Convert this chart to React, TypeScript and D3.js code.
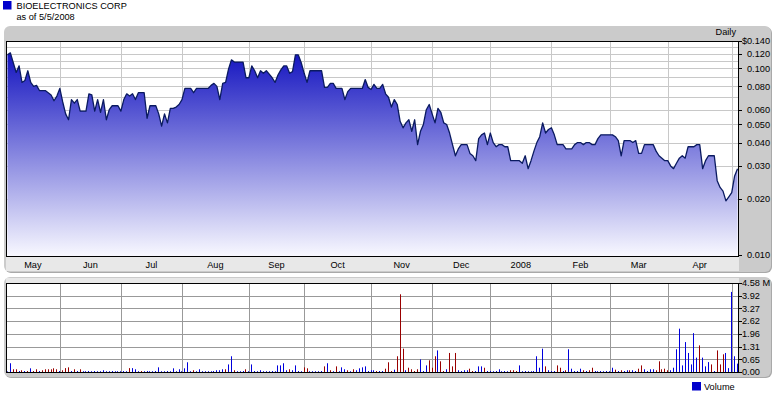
import React from "react";
import * as d3 from "d3";

const priceValues = [
  0.118, 0.121, 0.107, 0.095, 0.103, 0.084, 0.086, 0.097, 0.084, 0.080,
  0.081, 0.076, 0.076, 0.076, 0.074, 0.072, 0.067, 0.071, 0.078, 0.066,
  0.057, 0.053, 0.068, 0.065, 0.068, 0.059, 0.059, 0.059, 0.073, 0.072,
  0.059, 0.068, 0.058, 0.068, 0.053, 0.060, 0.063, 0.063, 0.063, 0.059,
  0.068, 0.073, 0.071, 0.073, 0.068, 0.074, 0.074, 0.074, 0.054, 0.063,
  0.063, 0.063, 0.057, 0.049, 0.057, 0.051, 0.061, 0.061, 0.062, 0.064,
  0.068, 0.078, 0.078, 0.078, 0.074, 0.078, 0.078, 0.078, 0.078, 0.078,
  0.081, 0.083, 0.080, 0.068, 0.083, 0.084, 0.099, 0.111, 0.108, 0.108,
  0.108, 0.108, 0.089, 0.089, 0.103, 0.097, 0.089, 0.097, 0.094, 0.097,
  0.093, 0.089, 0.084, 0.092, 0.098, 0.103, 0.103, 0.094, 0.096, 0.118,
  0.118, 0.107, 0.094, 0.084, 0.097, 0.097, 0.097, 0.097, 0.097, 0.079,
  0.079, 0.083, 0.083, 0.078, 0.078, 0.078, 0.068, 0.075, 0.078, 0.078,
  0.078, 0.078, 0.078, 0.087, 0.079, 0.077, 0.082, 0.078, 0.078, 0.082,
  0.073, 0.070, 0.062, 0.068, 0.064, 0.052, 0.048, 0.051, 0.053, 0.046,
  0.053, 0.039, 0.046, 0.050, 0.060, 0.064, 0.057, 0.051, 0.061, 0.058,
  0.051, 0.050, 0.045, 0.039, 0.034, 0.037, 0.039, 0.039, 0.039, 0.035,
  0.034, 0.032, 0.042, 0.044, 0.045, 0.039, 0.045, 0.040, 0.038, 0.039,
  0.039, 0.038, 0.038, 0.032, 0.032, 0.032, 0.032, 0.031, 0.034, 0.029,
  0.032, 0.036, 0.040, 0.043, 0.051, 0.045, 0.047, 0.048, 0.044, 0.039,
  0.039, 0.039, 0.037, 0.037, 0.037, 0.039, 0.040, 0.040, 0.039, 0.040,
  0.040, 0.039, 0.039, 0.042, 0.044, 0.044, 0.044, 0.044, 0.044, 0.043,
  0.041, 0.034, 0.041, 0.041, 0.041, 0.040, 0.041, 0.035, 0.035, 0.039,
  0.039, 0.039, 0.039, 0.036, 0.034, 0.033, 0.032, 0.032, 0.030, 0.029,
  0.031, 0.033, 0.034, 0.033, 0.038, 0.038, 0.038, 0.039, 0.039, 0.029,
  0.032, 0.034, 0.034, 0.034, 0.025, 0.023, 0.022, 0.0195, 0.0205, 0.0216,
  0.0265, 0.029,
];

const volumeValues = [
  0.03, 0.45, 0.14, 0.14, 0.05, 0.09, 0.05, 0.05, 0.19, 0.05,
  0.14, 0.05, 0.09, 0.14, 0.14, 0.14, 0.19, 0.14, 0.05, 0.09,
  0.20, 0.24, 0.05, 0.14, 0.05, 0.14, 0.04, 0.04, 0.05, 0.04,
  0.05, 0.04, 0.04, 0.09, 0.04, 0.04, 0.05, 0.04, 0.04, 0.04,
  0.05, 0.04, 0.20, 0.20, 0.14, 0.04, 0.05, 0.04, 0.05, 0.04,
  0.04, 0.05, 0.24, 0.04, 0.04, 0.05, 0.04, 0.19, 0.04, 0.14,
  0.04, 0.19, 0.50, 0.04, 0.09, 0.04, 0.14, 0.04, 0.04, 0.04,
  0.04, 0.05, 0.09, 0.09, 0.14, 0.14, 0.39, 0.81, 0.09, 0.04,
  0.04, 0.05, 0.14, 0.04, 0.39, 0.05, 0.04, 0.09, 0.04, 0.04,
  0.04, 0.05, 0.04, 0.34, 0.34, 0.45, 0.09, 0.14, 0.09, 0.34,
  0.05, 0.04, 0.24, 0.19, 0.04, 0.04, 0.04, 0.04, 0.05, 0.29,
  0.45, 0.09, 0.04, 0.29, 0.04, 0.24, 0.14, 0.09, 0.04, 0.14,
  0.09, 0.19, 0.24, 0.29, 0.05, 0.09, 0.09, 0.05, 0.05, 0.05,
  0.17, 0.50, 0.05, 0.12, 0.81, 4.00, 1.20, 0.09, 0.22, 0.14,
  0.05, 0.14, 0.65, 0.05, 0.34, 0.60, 0.22, 0.81, 1.11, 0.55,
  0.05, 0.14, 0.98, 0.29, 0.98, 0.09, 0.05, 0.09, 0.09, 0.17,
  0.05, 0.05, 0.29, 0.29, 0.22, 0.05, 0.05, 0.04, 0.05, 0.14,
  0.04, 0.05, 0.04, 0.09, 0.09, 0.05, 0.34, 0.04, 0.05, 0.04,
  0.04, 0.05, 0.81, 0.22, 1.20, 0.29, 0.09, 0.05, 0.05, 0.34,
  0.22, 0.05, 0.09, 1.17, 0.17, 0.05, 0.05, 0.17, 0.09, 0.05,
  0.09, 0.22, 0.05, 0.04, 0.05, 0.04, 0.05, 0.04, 0.22, 0.12,
  0.05, 0.09, 0.05, 0.09, 0.09, 0.09, 0.05, 0.17, 0.34, 0.14,
  0.05, 0.14, 0.14, 0.09, 0.55, 0.14, 0.17, 0.09, 0.09, 0.22,
  1.17, 2.23, 0.34, 1.54, 0.98, 0.39, 2.00, 0.74, 1.37, 0.74,
  0.29, 0.51, 0.39, 0.05, 1.11, 0.39, 0.91, 0.98, 0.20, 4.12,
  0.81, 0.43,
];

// b = up day (blue), r = down day (red)
const volumeDirections =
  "bbrrbrbrbr" + "rbrrrrrrbr" + "rrbrbrbbbb" + "bbbbbbbbbb" + "bbrbbbrbbb" +
  "bbbbbbbbbb" + "bbbbrbbbbb" + "bbbbbrbbrb" + "bbrbbbbbbb" + "bbbbbbbrbb" +
  "bbrrbbbbbr" + "brbrbbbrbr" + "bbbbbbbrbb" + "rrrbrrrbrr" + "rrbbbrrrbr" +
  "rbrrrbbbbr" + "rbbbrbbbbb" + "bbbrrrbbbb" + "bbbbbrbbbr" + "rbrbbbbbrb" +
  "rrbbbbbbbr" + "brbbrbbrrb" + "bbbrrrrrbb" + "bbbbbbbbrb" + "bbrbrrrbbb" +
  "bb";

const monthLabels = ["May", "Jun", "Jul", "Aug", "Sep", "Oct", "Nov", "Dec", "2008", "Feb", "Mar", "Apr", ""];
const monthTradingDays = [18, 21, 21, 23, 19, 23, 21, 20, 21, 20, 20, 22, 3];

const priceTickValues = [0.14, 0.12, 0.1, 0.08, 0.06, 0.05, 0.04, 0.03, 0.02, 0.01];
const priceTickLabels = ["$0.140", "0.120", "0.100", "0.080", "0.060", "0.050", "0.040", "0.030", "0.020", "0.010"];
const priceGridValues = [0.02, 0.03, 0.04, 0.05, 0.06, 0.07, 0.08, 0.09, 0.1, 0.11, 0.12, 0.13];

const volumeMax = 4.58;
const volumeTickLabels = ["0.00", "0.65", "1.31", "1.96", "2.62", "3.27", "3.92", "4.58 M"];

const titleText = "BIOELECTRONICS CORP";
const subtitleText = "as of 5/5/2008";
const periodText = "Daily";
const volumeLegendText = "Volume";

const FONT = "'Liberation Sans', Arial, Helvetica, sans-serif";

export default function App() {
  const W = 777;
  const H = 395;
  const plotL = 6;
  const plotR = 739;
  const pTop = 41;
  const pBot = 256;
  const vTop = 283;
  const vBot = 372;

  const n = priceValues.length;
  const x = d3.scaleBand<number>().domain(d3.range(n)).range([plotL, plotR]).padding(0);
  const cx = (i: number) => (x(i) as number) + x.bandwidth() / 2;

  const y = d3.scaleLog().domain([0.01, 0.14]).range([pBot - 1, pTop]);
  const yv = d3.scaleLinear().domain([0, volumeMax]).range([vBot, vTop]);

  const area = d3
    .area<number>()
    .x((_, i) => cx(i))
    .y0(pBot)
    .y1((d) => y(d));
  const line = d3
    .line<number>()
    .x((_, i) => cx(i))
    .y((d) => y(d));

  // month boundaries
  const starts: number[] = [];
  let acc = 0;
  monthTradingDays.forEach((d) => {
    starts.push(acc);
    acc += d;
  });
  const gridXs = starts.slice(1).map((s) => cx(s));
  const labelPos = monthLabels
    .map((lab, k) => {
      const left = k === 0 ? plotL : cx(starts[k]);
      const right = k + 1 < starts.length ? cx(starts[k + 1]) : plotR;
      return { lab, mid: (left + right) / 2 };
    })
    .filter((d) => d.lab !== "");

  const volTicks = volumeTickLabels.map((lab, k) => ({ lab, v: (volumeMax * k) / 7 }));

  return (
    <svg
      width={W}
      height={H}
      viewBox={`0 0 ${W} ${H}`}
      style={{ position: "absolute", left: 0, top: 0, background: "#fff" }}
      fontFamily={FONT}
    >
      <defs>
        <linearGradient id="priceFill" x1="0" y1="0" x2="0" y2="1">
          <stop offset="0" stopColor="rgb(20,20,192)" />
          <stop offset="1" stopColor="rgb(248,248,255)" />
        </linearGradient>
      </defs>

      {/* header legend */}
      <rect x={3} y={1} width={8.5} height={8.5} fill="#0000cc" />
      <text x={16.5} y={9} fontSize={9.2} fill="#000">{titleText}</text>
      <text x={16.5} y={19.5} fontSize={9.2} fill="#000">{subtitleText}</text>

      {/* price panel */}
      <rect x={5} y={27} width={767} height={246} rx={6} fill="#a9a9a9" />
      <rect x={4} y={26} width={767} height={246} rx={6} fill="#cbcbcb" />
      <rect x={plotL} y={pBot} width={plotR - plotL} height={15} fill="#e8e8e8" />
      <rect x={plotL} y={pTop} width={plotR - plotL} height={pBot - pTop} fill="#fff" />
      <text x={736} y={35} fontSize={9.2} textAnchor="end" fill="#000">{periodText}</text>

      {/* price grid */}
      {priceGridValues.map((v) => (
        <line key={"pg" + v} x1={plotL} x2={plotR} y1={Math.round(y(v)) + 0.5} y2={Math.round(y(v)) + 0.5} stroke="#c8c8c8" strokeWidth={1} />
      ))}
      {gridXs.map((gx, k) => (
        <line key={"pv" + k} x1={Math.round(gx) + 0.5} x2={Math.round(gx) + 0.5} y1={pTop} y2={pBot} stroke="#c8c8c8" strokeWidth={1} />
      ))}

      {/* price area */}
      <path d={area(priceValues) || ""} fill="url(#priceFill)" />
      <path d={line(priceValues) || ""} fill="none" stroke="#0a1a60" strokeWidth={1.3} strokeLinejoin="round" />

      {/* price border */}
      <rect x={plotL + 0.5} y={pTop + 0.5} width={plotR - plotL - 1} height={pBot - pTop} fill="none" stroke="#000" strokeWidth={1} />

      {/* price axis */}
      {priceTickValues.map((v, k) => (
        <g key={"pt" + k}>
          <line x1={plotR} x2={plotR + 3} y1={Math.round(y(v)) + 0.5} y2={Math.round(y(v)) + 0.5} stroke="#000" />
          <text x={770} y={y(v) + 3.3} fontSize={9.2} textAnchor="end" fill="#000">
            {priceTickLabels[k]}
          </text>
        </g>
      ))}

      {/* month labels */}
      {labelPos.map((d) => (
        <text key={d.lab} x={d.mid} y={268} fontSize={9.2} textAnchor="middle" fill="#000">
          {d.lab}
        </text>
      ))}

      {/* volume panel */}
      <rect x={5} y={278} width={767} height={100} rx={6} fill="#a9a9a9" />
      <rect x={4} y={277} width={767} height={100} rx={6} fill="#cbcbcb" />
      <rect x={plotL} y={278} width={plotR - plotL} height={vTop - 278} fill="#e8e8e8" />
      <rect x={plotL} y={vTop} width={plotR - plotL} height={vBot - vTop} fill="#fff" />

      {volTicks.slice(1, 7).map((t) => (
        <line key={"vg" + t.lab} x1={plotL} x2={plotR} y1={Math.round(yv(t.v)) + 0.5} y2={Math.round(yv(t.v)) + 0.5} stroke="#999" strokeWidth={1} />
      ))}
      {gridXs.map((gx, k) => (
        <line key={"vv" + k} x1={Math.round(gx) + 0.5} x2={Math.round(gx) + 0.5} y1={vTop} y2={vBot} stroke="#999" strokeWidth={1} />
      ))}

      {volumeValues.map((v, i) => {
        const top = yv(v);
        return (
          <rect
            key={"vb" + i}
            x={Math.floor(cx(i))}
            y={top}
            width={1}
            height={vBot - top}
            fill={volumeDirections[i] === "r" ? "#990000" : "#0000dd"}
          />
        );
      })}

      <rect x={plotL + 0.5} y={vTop + 0.5} width={plotR - plotL - 1} height={vBot - vTop} fill="none" stroke="#000" strokeWidth={1} />

      {volTicks.map((t) => (
        <g key={"vt" + t.lab}>
          <line x1={plotR} x2={plotR + 3} y1={Math.round(yv(t.v)) + 0.5} y2={Math.round(yv(t.v)) + 0.5} stroke="#000" />
          <text x={742} y={yv(t.v) + 3.3} fontSize={9.2} fill="#000">
            {t.lab}
          </text>
        </g>
      ))}

      {/* volume legend */}
      <rect x={692} y={382} width={9} height={8.5} fill="#0000cc" />
      <text x={704} y={390} fontSize={9.2} fill="#000">{volumeLegendText}</text>
    </svg>
  );
}
